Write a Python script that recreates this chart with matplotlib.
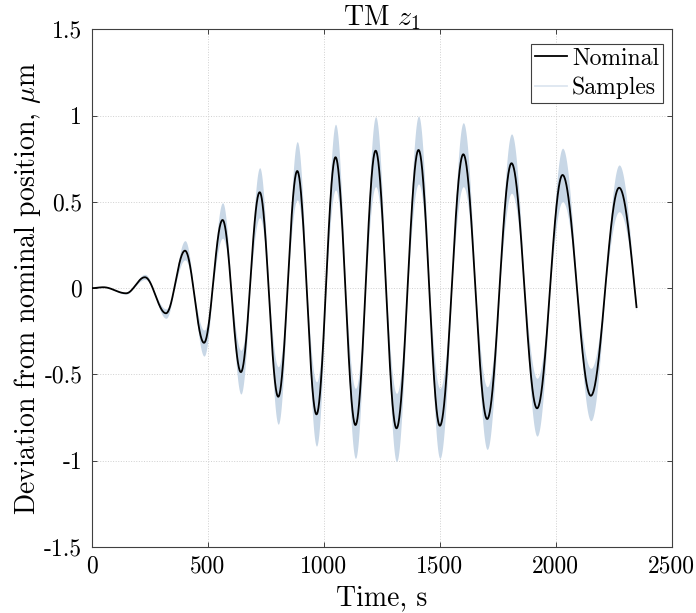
import numpy as np
import matplotlib
matplotlib.use("Agg")
import matplotlib.pyplot as plt
from matplotlib.ticker import FuncFormatter

# computer modern look, like the MATLAB/LaTeX original
plt.rcParams["font.family"] = "serif"
plt.rcParams["font.serif"] = ["cmr10", "DejaVu Serif"]
plt.rcParams["mathtext.fontset"] = "cm"
plt.rcParams["axes.unicode_minus"] = False
plt.rcParams["axes.formatter.use_mathtext"] = True

# extrema of the trajectory (time in s, value in um)
# the last point is where the next trough would sit; the line stops at t_end
t_ext = [0, 49, 147, 228, 319, 401, 483, 563, 642, 723, 803, 885, 968, 1050,
         1136, 1223, 1313, 1408, 1500, 1601, 1704, 1809, 1919, 2029, 2151,
         2273, 2405]
nominal_ext = [0, 0.005, -0.03, 0.063, -0.146, 0.217, -0.317, 0.395, -0.487,
               0.556, -0.630, 0.679, -0.732, 0.759, -0.794, 0.797, -0.813,
               0.801, -0.798, 0.776, -0.759, 0.724, -0.697, 0.656, -0.624,
               0.582, -0.56]
# outer / inner edge of the sample spread at each extremum
samples_outer = [0, 0.005, -0.035, 0.08, -0.175, 0.275, -0.394, 0.495, -0.614,
                 0.698, -0.789, 0.849, -0.916, 0.950, -0.987, 0.994, -1.006,
                 0.998, -0.987, 0.959, -0.935, 0.894, -0.858, 0.811, -0.769,
                 0.714, -0.69]
samples_inner = [0, 0.005, -0.026, 0.05, -0.12, 0.163, -0.243, 0.289, -0.36,
                 0.408, -0.456, 0.511, -0.543, 0.569, -0.581, 0.588, -0.61,
                 0.604, -0.581, 0.588, -0.572, 0.55, -0.523, 0.501, -0.465,
                 0.443, -0.42]
t_end = 2348

x_ticks = [0, 500, 1000, 1500, 2000, 2500]
y_ticks = [-1.5, -1, -0.5, 0, 0.5, 1, 1.5]


def through_extrema(tk, vk, t):
    # smooth half-cosine arcs from one extremum to the next
    tk = np.asarray(tk, float)
    vk = np.asarray(vk, float)
    i = np.clip(np.searchsorted(tk, t, side="right") - 1, 0, len(tk) - 2)
    f = (t - tk[i]) / (tk[i + 1] - tk[i])
    w = (1 - np.cos(np.pi * f)) / 2
    return vk[i] + w * (vk[i + 1] - vk[i])


t = np.linspace(0, t_end, 3000)
nom = through_extrema(t_ext, nominal_ext, t)
outer = through_extrema(t_ext, samples_outer, t)
inner = through_extrema(t_ext, samples_inner, t)

fig = plt.figure(figsize=(6.96, 6.13), dpi=100)
ax = fig.add_axes([0.1322, 0.108, 0.833, 0.844])

band_col = "#c8d7e6"
ax.fill_between(t, np.minimum(outer, inner), np.maximum(outer, inner),
                color=band_col, lw=0, zorder=2)
ax.plot(t, nom, color="black", lw=1.3, zorder=3, label="Nominal")
ax.plot([], [], color="#dde6f0", lw=1.3, label="Samples")

ax.set_xlim(0, 2500)
ax.set_ylim(-1.5, 1.5)
ax.set_xticks(x_ticks)
ax.set_yticks(y_ticks)
ax.yaxis.set_major_formatter(FuncFormatter(lambda v, p: f"{v:g}"))
ax.xaxis.set_major_formatter(FuncFormatter(lambda v, p: f"{v:g}"))
ax.tick_params(direction="in", length=3.6, width=0.7, color="#404040",
               top=True, right=True, labelsize=17, pad=6)
ax.tick_params(axis="y", pad=7)
for s in ax.spines.values():
    s.set_color("#404040")
    s.set_linewidth(0.8)
ax.grid(True, linestyle=":", color="#d0d0d0", lw=0.7, zorder=0)
ax.set_axisbelow(True)

ax.set_title(r"TM $z_1$", fontsize=20, pad=3)
ax.set_xlabel("Time, s", fontsize=20, labelpad=5.5)
ax.set_ylabel(r"Deviation from nominal position, $\mu$m", fontsize=20,
              labelpad=0.5)

leg = ax.legend(loc="upper right", bbox_to_anchor=(0.984, 0.972), fontsize=17,
                frameon=True, fancybox=False, framealpha=1, edgecolor="#404040",
                handlelength=1.37, handletextpad=0.2, borderpad=0.15,
                labelspacing=0.3, borderaxespad=0)
leg.get_frame().set_linewidth(0.8)

fig.savefig("out.png", dpi=100)
